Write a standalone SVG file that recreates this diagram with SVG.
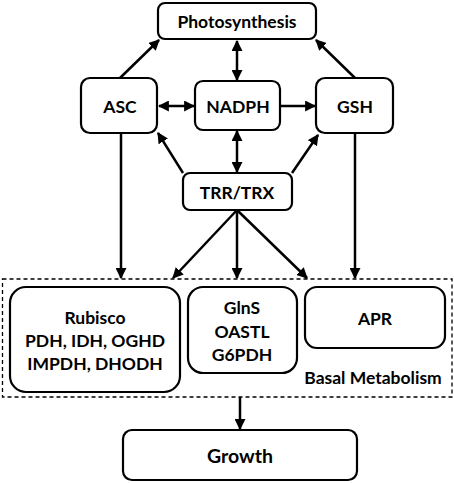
<svg xmlns="http://www.w3.org/2000/svg" width="454" height="483" viewBox="0 0 454 483">
<style>
.box{fill:#fff;stroke:#000;stroke-width:2.2}
.t{font-family:Lato,"Open Sans","Liberation Sans",sans-serif;font-weight:bold;font-size:17.5px;text-anchor:middle;dominant-baseline:central;fill:#000}
.big{font-size:19.5px}
.c{stroke:#000;stroke-width:2.5;fill:none}
.s{marker-end:url(#ah)}
.d{marker-start:url(#ah);marker-end:url(#ah)}
</style>
<defs>
<marker id="ah" viewBox="0 0 10 10" refX="9" refY="5" markerWidth="11" markerHeight="11" markerUnits="userSpaceOnUse" orient="auto-start-reverse">
<path d="M0,0 L10,5 L0,10 z" fill="#000"/>
</marker>
</defs>
<rect width="454" height="483" fill="#fff"/>
<g id="basal">
<rect x="2.5" y="279" width="449.5" height="118" fill="none" stroke="#000" stroke-width="1.3" stroke-dasharray="4,3"/>
<text class="t" x="373" y="377">Basal Metabolism</text>
</g>
<g id="connectors">
<line class="c s" x1="120" y1="78" x2="159" y2="40"/>
<line class="c s" x1="355" y1="78" x2="316" y2="40"/>
<line class="c d" x1="237" y1="41" x2="237" y2="80"/>
<line class="c d" x1="159" y1="106" x2="194" y2="106"/>
<line class="c s" x1="281" y1="106" x2="315" y2="106"/>
<line class="c d" x1="237" y1="131" x2="237" y2="172"/>
<line class="c s" x1="183" y1="173" x2="158" y2="133"/>
<line class="c s" x1="292" y1="173" x2="318" y2="135"/>
<line class="c s" x1="121" y1="133" x2="121" y2="278"/>
<line class="c s" x1="237" y1="210" x2="173" y2="278"/>
<line class="c s" x1="237" y1="210" x2="237" y2="278"/>
<line class="c s" x1="237" y1="210" x2="307" y2="278"/>
<line class="c s" x1="355" y1="133" x2="355" y2="278"/>
<line class="c s" x1="240" y1="397" x2="240" y2="429"/>
</g>
<g id="photosynthesis">
<rect class="box" x="158" y="3" width="158" height="36" rx="7"/>
<text class="t" x="237" y="21">Photosynthesis</text>
</g>
<g id="asc">
<rect class="box" x="81" y="78" width="76" height="55" rx="9"/>
<text class="t" x="120" y="106">ASC</text>
</g>
<g id="nadph">
<rect class="box" x="195" y="81" width="85" height="49" rx="8"/>
<text class="t" x="238" y="106">NADPH</text>
</g>
<g id="gsh">
<rect class="box" x="316" y="78" width="77" height="55" rx="9"/>
<text class="t" x="355" y="106">GSH</text>
</g>
<g id="trrtrx">
<rect class="box" x="183" y="173" width="109" height="37" rx="7"/>
<text class="t" x="237" y="192">TRR/TRX</text>
</g>
<g id="rubisco">
<rect class="box" x="10" y="287" width="170" height="105" rx="16"/>
<text class="t" x="95" y="317">Rubisco</text>
<text class="t" x="95" y="340">PDH, IDH, OGHD</text>
<text class="t" x="95" y="363">IMPDH, DHODH</text>
</g>
<g id="glns">
<rect class="box" x="188" y="287" width="109" height="86" rx="15"/>
<text class="t" x="242" y="307">GlnS</text>
<text class="t" x="242" y="331">OASTL</text>
<text class="t" x="242" y="354">G6PDH</text>
</g>
<g id="apr">
<rect class="box" x="305" y="287" width="140" height="61" rx="12"/>
<text class="t" x="375" y="318">APR</text>
</g>
<g id="growth">
<rect class="box" x="123" y="430" width="234" height="50" rx="9"/>
<text class="t big" x="240" y="455">Growth</text>
</g>
</svg>
